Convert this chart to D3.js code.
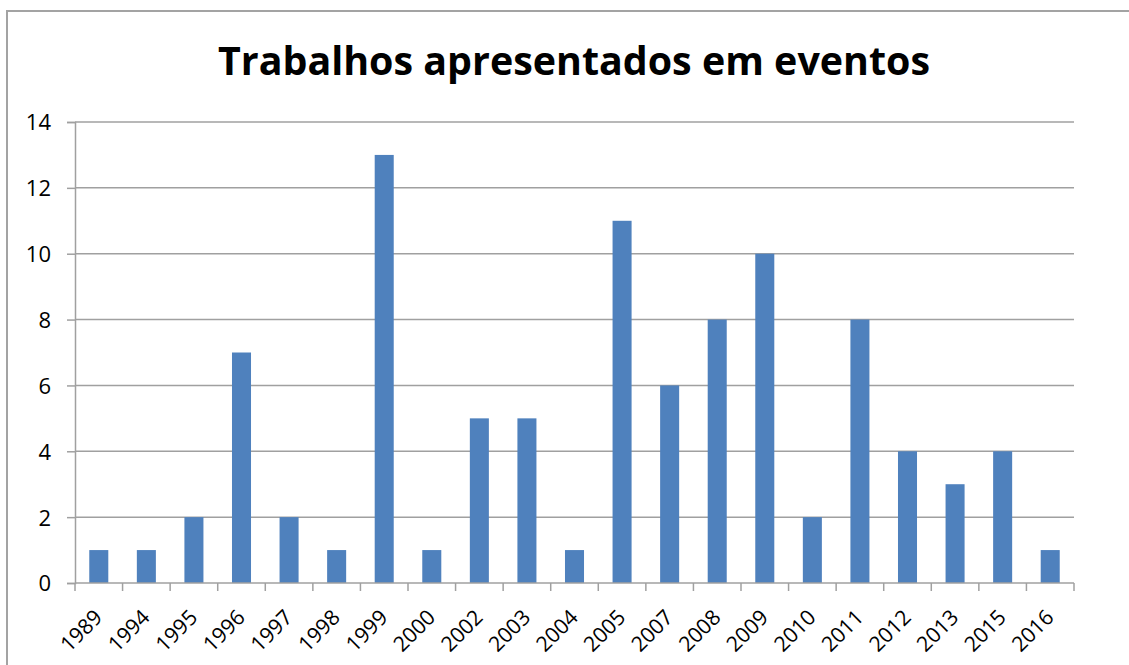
<!DOCTYPE html>
<html>
<head>
<meta charset="utf-8">
<script src="https://cdn.jsdelivr.net/npm/d3@7"></script>
<style>
  html, body { margin: 0; padding: 0; background: #fff; }
  svg { display: block; }
</style>
</head>
<body>
<svg id="chart" width="1129" height="665"></svg>
<script>
const categories = ["1989","1994","1995","1996","1997","1998","1999","2000","2002","2003","2004","2005","2007","2008","2009","2010","2011","2012","2013","2015","2016"];
const values = [1,1,2,7,2,1,13,1,5,5,1,11,6,8,10,2,8,4,3,4,1];
const yTicks = [0,2,4,6,8,10,12,14];
const title = "Trabalhos apresentados em eventos";

const svg = d3.select("#chart");
const plot = {left: 75, right: 1074, top: 122, bottom: 583};
const gridColor = "#a0a0a0";
const barColor = "#4f81bd";
const font = "'Open Sans', 'Liberation Sans', sans-serif";

svg.append("rect")
  .attr("x", 7).attr("y", 11)
  .attr("width", 1300).attr("height", 900)
  .attr("fill", "#fff")
  .attr("stroke", "#a3a3a3").attr("stroke-width", 2);

const x = d3.scaleBand().domain(categories).range([plot.left, plot.right]).paddingInner(0.6).paddingOuter(0.3);
const y = d3.scaleLinear().domain([0, 14]).range([plot.bottom, plot.top]);

const labelSize = 21.2;
const yLabelSize = 22;

svg.append("g").selectAll("line").data(yTicks.filter(d => d > 0)).join("line")
  .attr("x1", plot.left).attr("x2", plot.right)
  .attr("y1", d => y(d)).attr("y2", d => y(d))
  .attr("stroke", gridColor).attr("stroke-width", 1.5);

svg.append("g").selectAll("rect").data(categories).join("rect")
  .attr("x", d => x(d))
  .attr("width", x.bandwidth())
  .attr("y", (d, i) => y(values[i]))
  .attr("height", (d, i) => y(0) - y(values[i]))
  .attr("fill", barColor);

const yAxis = d3.axisLeft(y).tickValues(yTicks).tickSize(8).tickPadding(16).tickFormat(d3.format("d"));
const gy = svg.append("g").attr("transform", `translate(${plot.left},0)`).call(yAxis);
gy.select(".domain").attr("stroke", gridColor).attr("stroke-width", 1.5);
gy.selectAll(".tick line").attr("stroke", gridColor).attr("stroke-width", 1.5);
gy.selectAll(".tick text").attr("font-family", font).attr("font-size", yLabelSize).attr("fill", "#000").attr("dy", "0.36em");

const xAxis = d3.axisBottom(x).tickSize(0).tickFormat("");
const gx = svg.append("g").attr("transform", `translate(0,${plot.bottom})`).call(xAxis);
gx.select(".domain").attr("stroke", gridColor).attr("stroke-width", 1.5).attr("d", `M${plot.left},0H${plot.right}`);
gx.selectAll(".tick").remove();
const bounds = d3.range(categories.length + 1).map(i => plot.left + i * (plot.right - plot.left) / categories.length);
gx.selectAll("line.bt").data(bounds).join("line")
  .attr("class", "bt")
  .attr("x1", d => d).attr("x2", d => d)
  .attr("y1", 0).attr("y2", 8)
  .attr("stroke", gridColor).attr("stroke-width", 1.5);

svg.append("g").selectAll("text").data(categories).join("text")
  .attr("transform", d => `translate(${x(d) + x.bandwidth() / 2 - 6},${plot.bottom + 25}) rotate(-45)`)
  .attr("text-anchor", "end")
  .attr("dy", "0.72em")
  .attr("font-family", font).attr("font-size", labelSize).attr("fill", "#000")
  .text(d => d);

svg.append("text")
  .attr("x", 574).attr("y", 75)
  .attr("text-anchor", "middle")
  .attr("font-family", font).attr("font-weight", "bold")
  .attr("font-size", 39.4).attr("fill", "#000")
  .text(title);
</script>
</body>
</html>
